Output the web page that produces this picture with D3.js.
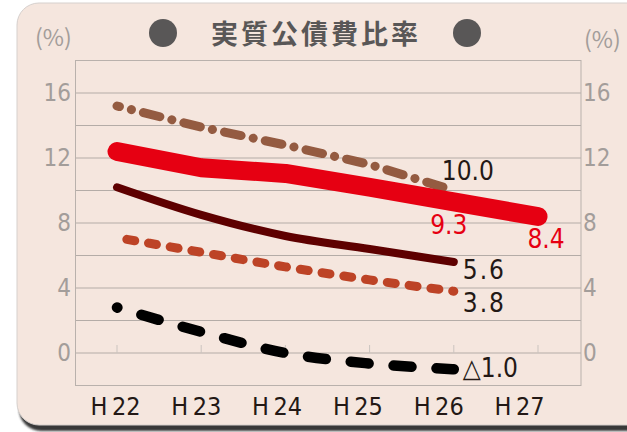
<!DOCTYPE html>
<html>
<head>
<meta charset="utf-8">
<script src="https://cdn.jsdelivr.net/npm/d3@7/dist/d3.min.js"></script>
<style>
  html, body { margin: 0; padding: 0; background: #ffffff; }
  svg { display: block; }
  .narrow { font-family: "Liberation Sans Narrow", "Arial Narrow", "DejaVu Sans Condensed", sans-serif; }
</style>
</head>
<body>
<div id="chart"></div>
<script>
// categories
var years = ["H22", "H23", "H24", "H25", "H26", "H27"];
var yTicks = [0, 4, 8, 12, 16];
var gridValues = [0, 2, 4, 6, 8, 10, 12, 14, 16];

// series values (%)
var redMain = [12.4, 11.4, 11.05, 10.2, 9.3, 8.4];
var brownDashDot = [15.2, 13.9, 12.8, 11.6, 10.0];
var darkSolid = [10.2, 8.5, 7.2, 6.4, 5.6];
var orangeDash = [7.1, 6.2, 5.3, 4.5, 3.8];
var blackDash = [2.8, 1.3, 0.0, -0.65, -1.0];

// end labels
var endLabels = ["10.0", "9.3", "8.4", "5.6", "3.8", "\u25B31.0"];

var W = 627, H = 432;

var svg = d3.select("#chart").append("svg")
    .attr("width", W)
    .attr("height", H);

var defs = svg.append("defs");
defs.append("filter").attr("id", "blur")
    .append("feGaussianBlur").attr("stdDeviation", 1.2);

// panel with shadow
svg.append("rect")
    .attr("x", 19).attr("y", 8)
    .attr("width", 680).attr("height", 423)
    .attr("rx", 22)
    .attr("fill", "#383838")
    .attr("filter", "url(#blur)");
svg.append("rect")
    .attr("x", 17).attr("y", 3)
    .attr("width", 680).attr("height", 422)
    .attr("rx", 22)
    .attr("fill", "#f5e6de")
    .attr("stroke", "#d6d0cd")
    .attr("stroke-width", 1);

var x = d3.scalePoint().domain(years).range([117, 538]);
var xLab = d3.scalePoint().domain(years).range([115, 519]);
var y = d3.scaleLinear().domain([-2, 18]).range([385.5, 60.5]);

var plot = svg.append("g");

// grid
plot.selectAll(".grid")
    .data(gridValues)
    .enter().append("line")
    .attr("x1", 75).attr("x2", 581)
    .attr("y1", function(d) { return y(d); })
    .attr("y2", function(d) { return y(d); })
    .attr("stroke", "#b4aca7")
    .attr("stroke-width", 1);

// small ticks on zero line
plot.selectAll(".tick")
    .data(years)
    .enter().append("line")
    .attr("x1", function(d) { return x(d); })
    .attr("x2", function(d) { return x(d); })
    .attr("y1", y(0) - 8).attr("y2", y(0))
    .attr("stroke", "#cbc4bf")
    .attr("stroke-width", 1);

// frame
plot.append("rect")
    .attr("x", 75.5).attr("y", y(18))
    .attr("width", 505.5).attr("height", y(-2) - y(18))
    .attr("fill", "none")
    .attr("stroke", "#b9b1ac")
    .attr("stroke-width", 1);

// axis labels
var leftAxis = d3.axisLeft(y).tickValues(yTicks).tickSize(0).tickPadding(4);
var gl = svg.append("g").attr("transform", "translate(71,0)").call(leftAxis);
gl.select(".domain").remove();
gl.selectAll("text").attr("class", "narrow").attr("font-size", 24).attr("fill", "#a39d9a").attr("x", 0);

var rightAxis = d3.axisRight(y).tickValues(yTicks).tickSize(0).tickPadding(0);
var gr = svg.append("g").attr("transform", "translate(583,0)").call(rightAxis);
gr.select(".domain").remove();
gr.selectAll("text").attr("class", "narrow").attr("font-size", 24).attr("fill", "#a39d9a").attr("x", 0);

var bottomAxis = d3.axisBottom(xLab).tickSize(0).tickPadding(0)
    .tickFormat(function(d) { return "H\u2009" + d.slice(1); });
var gb = svg.append("g").attr("transform", "translate(0,397)").call(bottomAxis);
gb.select(".domain").remove();
gb.selectAll("text").attr("class", "narrow").attr("font-size", 25).attr("fill", "#231815").attr("dy", "0.72em");

// unit labels
svg.append("text").attr("x", 35).attr("y", 46)
    .attr("font-family", "'Noto Sans CJK JP', sans-serif")
    .attr("font-size", 23).attr("fill", "#a39d9a").text("(%)");
svg.append("text").attr("x", 584).attr("y", 48)
    .attr("font-family", "'Noto Sans CJK JP', sans-serif")
    .attr("font-size", 23).attr("fill", "#a39d9a").text("(%)");

// title
svg.append("circle").attr("cx", 163).attr("cy", 33).attr("r", 14).attr("fill", "#595757");
svg.append("circle").attr("cx", 467).attr("cy", 33).attr("r", 14).attr("fill", "#595757");
svg.append("text").attr("x", 316).attr("y", 44)
    .attr("text-anchor", "middle")
    .attr("font-family", "'Noto Sans CJK JP', sans-serif")
    .attr("font-weight", "bold")
    .attr("font-size", 27)
    .attr("letter-spacing", 3)
    .attr("fill", "#595757")
    .text("実質公債費比率");

function pts(vals) {
    return vals.map(function(v, i) { return [x(years[i]), y(v)]; });
}

var lineLinear = d3.line();
var lineSmooth = d3.line().curve(d3.curveMonotoneX);

// series
plot.append("path")
    .attr("d", lineSmooth(pts(blackDash)))
    .attr("fill", "none").attr("stroke", "#000000")
    .attr("stroke-width", 10.5).attr("stroke-linecap", "round")
    .attr("stroke-dasharray", "18,25").attr("stroke-dashoffset", 17.6);

plot.append("path")
    .attr("d", lineSmooth(pts(orangeDash)))
    .attr("fill", "none").attr("stroke", "#bd4326")
    .attr("stroke-width", 9).attr("stroke-linecap", "round")
    .attr("stroke-dasharray", "8,14").attr("stroke-dashoffset", -10);

plot.append("path")
    .attr("d", lineSmooth(pts(darkSolid)))
    .attr("fill", "none").attr("stroke", "#5e0000")
    .attr("stroke-width", 8).attr("stroke-linecap", "round");

plot.append("path")
    .attr("d", lineLinear(pts(brownDashDot)))
    .attr("fill", "none").attr("stroke", "#945b41")
    .attr("stroke-width", 9).attr("stroke-linecap", "round")
    .attr("stroke-dasharray", "17,12.3,0.1,12.3").attr("stroke-dashoffset", 14.5);

plot.append("path")
    .attr("d", lineLinear(pts(redMain)))
    .attr("fill", "none").attr("stroke", "#e60012")
    .attr("stroke-width", 19).attr("stroke-linecap", "round")
    .attr("stroke-linejoin", "round");

// end labels
var labelSpecs = [
    { text: endLabels[0], px: x("H26"), py: y(brownDashDot[4]), dx: -12, dy: -20, anchor: "start", color: "#231815", ls: 0 },
    { text: endLabels[1], px: x("H26"), py: y(redMain[4]), dx: -5, dy: 23, anchor: "middle", color: "#e60012", ls: 0 },
    { text: endLabels[2], px: x("H27"), py: y(redMain[5]), dx: 8, dy: 22, anchor: "middle", color: "#e60012", ls: 0 },
    { text: endLabels[3], px: x("H26"), py: y(darkSolid[4]), dx: 9, dy: 8, anchor: "start", color: "#231815", ls: 2 },
    { text: endLabels[4], px: x("H26"), py: y(orangeDash[4]), dx: 9, dy: 11, anchor: "start", color: "#231815", ls: 2 },
    { text: endLabels[5], px: x("H26"), py: y(blackDash[4]), dx: 9, dy: -2, anchor: "start", color: "#231815", ls: 0 }
];

svg.selectAll(".endlabel")
    .data(labelSpecs)
    .enter().append("text")
    .attr("class", "narrow")
    .attr("x", function(d) { return d.px + d.dx; })
    .attr("y", function(d) { return d.py + d.dy; })
    .attr("dy", "0.36em")
    .attr("text-anchor", function(d) { return d.anchor; })
    .attr("letter-spacing", function(d) { return d.ls; })
    .attr("font-size", 26)
    .attr("fill", function(d) { return d.color; })
    .text(function(d) { return d.text; });
</script>
</body>
</html>
